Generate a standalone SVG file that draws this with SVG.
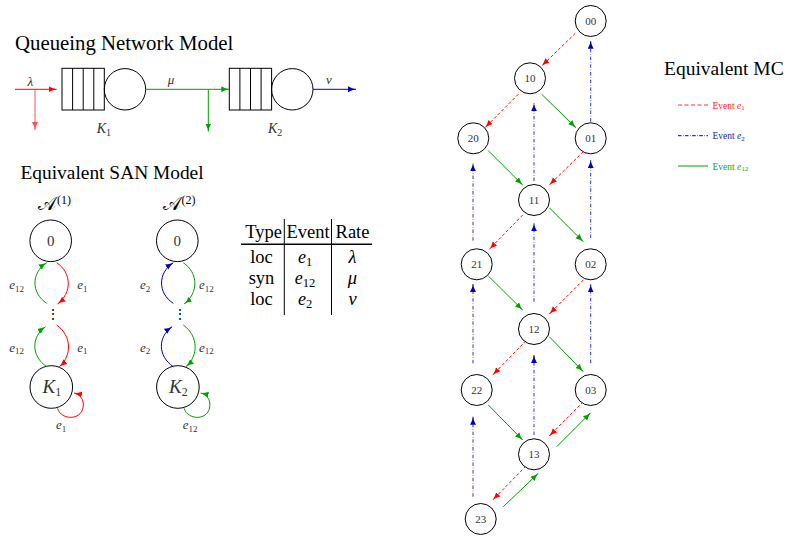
<svg xmlns="http://www.w3.org/2000/svg" width="787" height="538" viewBox="0 0 787 538">
<style>
text{font-family:"Liberation Serif","Times New Roman",serif;}
.title{fill:#000;}
.m{font-style:italic;fill:#333;}
.nd{fill:#fff;stroke:#000;stroke-width:1;}
.mcl{font-size:11px;fill:#333;text-anchor:middle;}
.red{stroke:#ff0000;stroke-width:1;fill:none;stroke-dasharray:3,2.2;}
.grn{stroke:#00a000;stroke-width:1;fill:none;}
.blu{stroke:#3535d0;stroke-width:1;fill:none;stroke-dasharray:3.5,1.8,0.6,1.8;}
.qn{fill:none;stroke:#000;stroke-width:1;}
.tab{fill:#000;text-anchor:middle;}
.lab{font-size:13px;}
.sub{font-size:9px;}
</style>
<defs>
<marker id="ar" markerUnits="userSpaceOnUse" markerWidth="9" markerHeight="7" refX="8" refY="3" orient="auto"><path d="M0,0 Q4,2.4 8,3 Q4,3.6 0,6 z" fill="#ff0000"/></marker>
<marker id="ag" markerUnits="userSpaceOnUse" markerWidth="9" markerHeight="7" refX="8" refY="3" orient="auto"><path d="M0,0 Q4,2.4 8,3 Q4,3.6 0,6 z" fill="#00a000"/></marker>
<marker id="ab" markerUnits="userSpaceOnUse" markerWidth="9" markerHeight="7" refX="8" refY="3" orient="auto"><path d="M0,0 Q4,2.4 8,3 Q4,3.6 0,6 z" fill="#0000b0"/></marker>
<marker id="ar2" markerUnits="userSpaceOnUse" markerWidth="9" markerHeight="7" refX="8" refY="3" orient="auto"><path d="M0,0 Q4,2.4 8,3 Q4,3.6 0,6 z" fill="#ff5050"/></marker>
</defs>

<!-- Queueing network -->
<g id="qn-title"><text class="title" x="15" y="49.5" font-size="20.8">Queueing Network Model</text></g>
<g id="queue1">
<rect class="qn" x="62" y="68.3" width="42.3" height="41.7"/>
<line class="qn" x1="72.6" y1="68.3" x2="72.6" y2="110"/>
<line class="qn" x1="83.2" y1="68.3" x2="83.2" y2="110"/>
<line class="qn" x1="93.8" y1="68.3" x2="93.8" y2="110"/>
<circle class="qn" cx="125" cy="89.3" r="20.7"/>
<text class="m" x="96.7" y="133" font-size="14">K<tspan font-size="10" font-style="normal" dy="2.5">1</tspan></text>
</g>
<g id="queue2">
<rect class="qn" x="229.3" y="68.3" width="42.3" height="41.7"/>
<line class="qn" x1="239.9" y1="68.3" x2="239.9" y2="110"/>
<line class="qn" x1="250.5" y1="68.3" x2="250.5" y2="110"/>
<line class="qn" x1="261.1" y1="68.3" x2="261.1" y2="110"/>
<circle class="qn" cx="292.3" cy="89.3" r="20.7"/>
<text class="m" x="268" y="133" font-size="14">K<tspan font-size="10" font-style="normal" dy="2.5">2</tspan></text>
</g>
<g id="qn-flows">
<line x1="15" y1="89.3" x2="56.7" y2="89.3" stroke="#ff0000" stroke-width="1" marker-end="url(#ar)"/>
<line x1="35" y1="89.3" x2="35" y2="130" stroke="#ff5050" stroke-width="1" marker-end="url(#ar2)"/>
<line x1="145.7" y1="89.3" x2="229.3" y2="89.3" stroke="#00a000" stroke-width="1" marker-end="url(#ag)"/>
<line x1="208.3" y1="89.3" x2="208.3" y2="131.5" stroke="#00a000" stroke-width="1" marker-end="url(#ag)"/>
<line x1="313" y1="89.3" x2="356" y2="89.3" stroke="#0000b0" stroke-width="1" marker-end="url(#ab)"/>
<text class="m" x="30.3" y="85.5" font-size="13" text-anchor="middle">λ</text>
<text class="m" x="171" y="83.5" font-size="13" text-anchor="middle">μ</text>
<text class="m" x="329" y="84" font-size="13" text-anchor="middle">ν</text>
</g>

<!-- SAN -->
<g id="san-title"><text class="title" x="20.5" y="178.5" font-size="19.4">Equivalent SAN Model</text></g>
<g id="A1">
<text x="56" y="209.5" font-size="19" font-family="DejaVu Serif, serif" fill="#000" text-anchor="end">𝒜</text>
<text x="57" y="203.5" font-size="12" fill="#000">(1)</text>
</g>
<g id="A2">
<text x="180.5" y="209.5" font-size="19" font-family="DejaVu Serif, serif" fill="#000" text-anchor="end">𝒜</text>
<text x="181.5" y="203.5" font-size="12" fill="#000">(2)</text>
</g>
<g id="san1-0"><circle class="nd" cx="50.7" cy="240.8" r="20.8"/><text x="50.7" y="246" font-size="15" text-anchor="middle" fill="#333">0</text></g>
<g id="san1-K1"><circle class="nd" cx="51.3" cy="387" r="21.3"/><text class="m" x="42.5" y="393.3" font-size="19">K<tspan font-size="12" font-style="normal" dy="2.8">1</tspan></text></g>
<g id="san1-dots"><text x="53.3" y="319" font-size="14" font-family="DejaVu Sans, sans-serif" text-anchor="middle" fill="#000">⋮</text></g>
<g id="san2-0"><circle class="nd" cx="177.3" cy="240.8" r="20.8"/><text x="177.3" y="246" font-size="15" text-anchor="middle" fill="#333">0</text></g>
<g id="san2-K2"><circle class="nd" cx="177.9" cy="387" r="21.3"/><text class="m" x="169" y="393.3" font-size="19">K<tspan font-size="12" font-style="normal" dy="2.8">2</tspan></text></g>
<g id="san2-dots"><text x="180" y="319" font-size="14" font-family="DejaVu Sans, sans-serif" text-anchor="middle" fill="#000">⋮</text></g>

<g id="san-edges">
<path d="M46.7,303.3 C31,293 31,273 46.7,262.7" stroke="#00a000" fill="none" marker-end="url(#ag)"/>
<path d="M56.7,262.7 C72,273 72,293 57.5,304" stroke="#ff0000" fill="none" marker-end="url(#ar)"/>
<path d="M46.7,366.7 C31,356 31,337 45.5,326.7" stroke="#00a000" fill="none" marker-end="url(#ag)"/>
<path d="M56.7,325 C72,336 72,356 59.3,366.7" stroke="#ff0000" fill="none" marker-end="url(#ar)"/>
<path d="M57.5,408.3 C61,421 84,421 83.3,404 C83,398 79,394 74,393" stroke="#ff0000" fill="none" marker-end="url(#ar)"/>

<path d="M173.3,303.3 C157.6,293 157.6,273 173.3,262.7" stroke="#0000b0" fill="none" marker-end="url(#ab)"/>
<path d="M183.3,262.7 C198.6,273 198.6,293 184.1,304" stroke="#00a000" fill="none" marker-end="url(#ag)"/>
<path d="M173.3,366.7 C157.6,356 157.6,337 172.1,326.7" stroke="#0000b0" fill="none" marker-end="url(#ab)"/>
<path d="M183.3,325 C198.6,336 198.6,356 185.9,366.7" stroke="#00a000" fill="none" marker-end="url(#ag)"/>
<path d="M184.1,408.3 C187.6,421 210.6,421 209.9,404 C209.6,398 205.6,394 200.6,393" stroke="#00a000" fill="none" marker-end="url(#ag)"/>

<text class="m lab" x="9.3" y="289.3">e<tspan class="sub" font-style="normal" dy="2.5">12</tspan></text>
<text class="m lab" x="77.3" y="289.3">e<tspan class="sub" font-style="normal" dy="2.5">1</tspan></text>
<text class="m lab" x="9.3" y="351.7">e<tspan class="sub" font-style="normal" dy="2.5">12</tspan></text>
<text class="m lab" x="77.3" y="351.7">e<tspan class="sub" font-style="normal" dy="2.5">1</tspan></text>
<text class="m lab" x="56" y="429.3">e<tspan class="sub" font-style="normal" dy="2.5">1</tspan></text>
<text class="m lab" x="140" y="289.3">e<tspan class="sub" font-style="normal" dy="2.5">2</tspan></text>
<text class="m lab" x="199" y="289.3">e<tspan class="sub" font-style="normal" dy="2.5">12</tspan></text>
<text class="m lab" x="140" y="351.7">e<tspan class="sub" font-style="normal" dy="2.5">2</tspan></text>
<text class="m lab" x="199" y="351.7">e<tspan class="sub" font-style="normal" dy="2.5">12</tspan></text>
<text class="m lab" x="182.7" y="429.3">e<tspan class="sub" font-style="normal" dy="2.5">12</tspan></text>
</g>

<!-- Table -->
<g id="table">
<line x1="284.3" y1="219" x2="284.3" y2="315" stroke="#000" stroke-width="1"/>
<line x1="331.5" y1="219" x2="331.5" y2="315" stroke="#000" stroke-width="1"/>
<line x1="241" y1="244.3" x2="372" y2="244.3" stroke="#000" stroke-width="1.6"/>
<text class="tab" x="263.5" y="237.7" font-size="18.5">Type</text>
<text class="tab" x="308" y="237.7" font-size="18.5">Event</text>
<text class="tab" x="352.5" y="237.7" font-size="18.5">Rate</text>
<text class="tab" x="261.5" y="263.3" font-size="18.5">loc</text>
<text class="tab" x="261.5" y="284.3" font-size="18.5">syn</text>
<text class="tab" x="261.5" y="305" font-size="18.5">loc</text>
<text class="tab" x="305" y="263.3" font-size="18" fill="#333"><tspan font-style="italic">e</tspan><tspan font-size="12.5" dy="3">1</tspan></text>
<text class="tab" x="305" y="284.3" font-size="18" fill="#333"><tspan font-style="italic">e</tspan><tspan font-size="12.5" dy="3">12</tspan></text>
<text class="tab" x="305" y="305" font-size="18" fill="#333"><tspan font-style="italic">e</tspan><tspan font-size="12.5" dy="3">2</tspan></text>
<text class="tab" x="352.5" y="263.3" font-size="18.5" font-style="italic" fill="#333">λ</text>
<text class="tab" x="352.5" y="284.3" font-size="18.5" font-style="italic" fill="#333">μ</text>
<text class="tab" x="352.5" y="305" font-size="18.5" font-style="italic" fill="#333">ν</text>
</g>

<!-- Markov chain -->
<g id="mc-edges">
<line class="red" x1="575.3" y1="33.3" x2="541.7" y2="66" marker-end="url(#ar)"/>
<line class="red" x1="518.3" y1="94.3" x2="485" y2="127.7" marker-end="url(#ar)"/>
<line class="red" x1="583.3" y1="151.7" x2="549.3" y2="185" marker-end="url(#ar)"/>
<line class="red" x1="522.7" y1="215" x2="489.3" y2="249.3" marker-end="url(#ar)"/>
<line class="red" x1="583.3" y1="280" x2="549.3" y2="314" marker-end="url(#ar)"/>
<line class="red" x1="526" y1="340.7" x2="492.7" y2="375" marker-end="url(#ar)"/>
<line class="red" x1="583.3" y1="401.7" x2="549.3" y2="436" marker-end="url(#ar)"/>
<line class="red" x1="526" y1="466" x2="492.7" y2="500" marker-end="url(#ar)"/>

<line class="grn" x1="541.7" y1="94.3" x2="576" y2="127.7" marker-end="url(#ag)"/>
<line class="grn" x1="488.3" y1="150.7" x2="522.7" y2="185" marker-end="url(#ag)"/>
<line class="grn" x1="549.3" y1="207.7" x2="583.3" y2="241.7" marker-end="url(#ag)"/>
<line class="grn" x1="488.3" y1="276" x2="522.7" y2="310" marker-end="url(#ag)"/>
<line class="grn" x1="549.3" y1="336.7" x2="583.3" y2="371.7" marker-end="url(#ag)"/>
<line class="grn" x1="488.3" y1="405" x2="522.7" y2="440" marker-end="url(#ag)"/>
<line class="grn" x1="556.7" y1="446.7" x2="590.7" y2="412.7" marker-end="url(#ag)"/>
<line class="grn" x1="503.3" y1="506.7" x2="538.3" y2="473.3" marker-end="url(#ag)"/>

<line class="blu" x1="590.7" y1="121.7" x2="590.7" y2="40.7" marker-end="url(#ab)"/>
<line class="blu" x1="534" y1="181" x2="534" y2="103.3" marker-end="url(#ab)"/>
<line class="blu" x1="473" y1="240.7" x2="473" y2="163.3" marker-end="url(#ab)"/>
<line class="blu" x1="590.7" y1="238" x2="590.7" y2="160" marker-end="url(#ab)"/>
<line class="blu" x1="534" y1="301.7" x2="534" y2="223.3" marker-end="url(#ab)"/>
<line class="blu" x1="473" y1="363.3" x2="473" y2="284" marker-end="url(#ab)"/>
<line class="blu" x1="590.7" y1="363" x2="590.7" y2="284.3" marker-end="url(#ab)"/>
<line class="blu" x1="534" y1="435" x2="534" y2="355" marker-end="url(#ab)"/>
<line class="blu" x1="473" y1="496.7" x2="473" y2="416.7" marker-end="url(#ab)"/>
</g>

<g id="n00"><circle class="nd" cx="590.7" cy="21" r="15.5"/><text class="mcl" x="590.7" y="24.8">00</text></g>
<g id="n10"><circle class="nd" cx="530" cy="78.3" r="15.5"/><text class="mcl" x="530" y="82.1">10</text></g>
<g id="n20"><circle class="nd" cx="473.3" cy="138.3" r="15.5"/><text class="mcl" x="473.3" y="142.1">20</text></g>
<g id="n01"><circle class="nd" cx="590.7" cy="138.3" r="15.5"/><text class="mcl" x="590.7" y="142.1">01</text></g>
<g id="n11"><circle class="nd" cx="534" cy="200" r="15.5"/><text class="mcl" x="534" y="203.8">11</text></g>
<g id="n21"><circle class="nd" cx="476.7" cy="264.3" r="15.5"/><text class="mcl" x="476.7" y="268.1">21</text></g>
<g id="n02"><circle class="nd" cx="590.7" cy="264.3" r="15.5"/><text class="mcl" x="590.7" y="268.1">02</text></g>
<g id="n12"><circle class="nd" cx="534" cy="329" r="15.5"/><text class="mcl" x="534" y="332.8">12</text></g>
<g id="n22"><circle class="nd" cx="476.7" cy="390" r="15.5"/><text class="mcl" x="476.7" y="393.8">22</text></g>
<g id="n03"><circle class="nd" cx="590.7" cy="390" r="15.5"/><text class="mcl" x="590.7" y="393.8">03</text></g>
<g id="n13"><circle class="nd" cx="534" cy="454.3" r="15.5"/><text class="mcl" x="534" y="458.1">13</text></g>
<g id="n23"><circle class="nd" cx="480.7" cy="519" r="15.5"/><text class="mcl" x="480.7" y="522.8">23</text></g>

<g id="legend">
<text class="title" x="664" y="74.5" font-size="19.5">Equivalent MC</text>
<line x1="678" y1="105" x2="708" y2="105" stroke="#ff3030" stroke-width="1" stroke-dasharray="4,2.5"/>
<text x="712.5" y="108.5" font-size="9.5" fill="#ff2020">Event <tspan font-style="italic">e</tspan><tspan font-size="7" dy="1.8">1</tspan></text>
<line x1="678" y1="135.7" x2="708" y2="135.7" stroke="#000080" stroke-width="1" stroke-dasharray="3.5,1.5,0.6,1.5"/>
<text x="712.5" y="139" font-size="9.5" fill="#2020a0">Event <tspan font-style="italic">e</tspan><tspan font-size="7" dy="1.8">2</tspan></text>
<line x1="678" y1="166" x2="708" y2="166" stroke="#40b040" stroke-width="1.3"/>
<text x="712.5" y="169.5" font-size="9.5" fill="#20a020">Event <tspan font-style="italic">e</tspan><tspan font-size="7" dy="1.8">12</tspan></text>
</g>
</svg>
